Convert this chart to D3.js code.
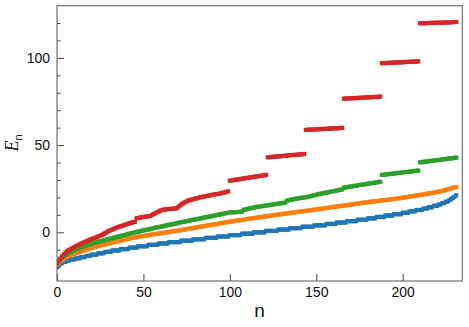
<!DOCTYPE html>
<html><head><meta charset="utf-8">
<script src="https://cdn.jsdelivr.net/npm/d3@7/dist/d3.min.js"></script>
<style>html,body{margin:0;padding:0;background:#fff;}svg{display:block;}</style>
</head><body>
<svg id="chart" width="469" height="327"></svg>
<script>
const seriesNames = ["s1","s2","s3","s4"];
const colors = ["#1f77b4","#ff7f0e","#2ca02c","#d62728"];
const xTicks = [0,50,100,150,200];
const yTicks = [0,50,100];
const yMinorTicks = [-20,-10,10,20,30,40,60,70,80,90,110,120];

const blue = [
-20.0,-18.9,-18.1,-17.5,-16.9,-16.9,-16.2,-16.2,-15.6,-15.6,
-15.6,-14.9,-14.9,-14.9,-14.2,-14.2,-14.2,-13.5,-13.5,-13.5,
-12.8,-12.8,-12.8,-12.8,-12.0,-12.0,-12.0,-12.0,-11.2,-11.2,
-11.2,-11.2,-10.4,-10.4,-10.4,-10.4,-10.4,-9.6,-9.6,-9.6,
-9.6,-9.6,-8.8,-8.8,-8.8,-8.8,-8.8,-8.0,-8.0,-8.0,
-8.0,-8.0,-8.0,-7.2,-7.2,-7.2,-7.2,-7.2,-7.2,-6.4,
-6.4,-6.4,-6.4,-6.4,-6.4,-5.6,-5.6,-5.6,-5.6,-5.6,
-5.6,-5.6,-4.8,-4.8,-4.8,-4.8,-4.8,-4.8,-4.8,-4.0,
-4.0,-4.0,-4.0,-4.0,-4.0,-4.0,-3.2,-3.2,-3.2,-3.2,
-3.2,-3.2,-3.2,-2.4,-2.4,-2.4,-2.4,-2.4,-2.4,-2.4,
-1.6,-1.6,-1.6,-1.6,-1.6,-1.6,-1.6,-0.8,-0.8,-0.8,
-0.8,-0.8,-0.8,-0.8,0.0,0.0,0.0,0.0,0.0,0.0,
0.0,0.8,0.8,0.8,0.8,0.8,0.8,0.8,1.6,1.6,
1.6,1.6,1.6,1.6,1.6,2.4,2.4,2.4,2.4,2.4,
2.4,2.4,3.2,3.2,3.2,3.2,3.2,3.2,3.2,4.0,
4.0,4.0,4.0,4.0,4.0,4.0,4.8,4.8,4.8,4.8,
4.8,4.8,5.6,5.6,5.6,5.6,5.6,5.6,6.4,6.4,
6.4,6.4,6.4,6.4,7.2,7.2,7.2,7.2,7.2,7.2,
8.0,8.0,8.0,8.0,8.0,8.8,8.8,8.8,8.8,8.8,
9.6,9.6,9.6,9.6,9.6,10.4,10.4,10.4,10.4,10.4,
11.2,11.2,11.2,11.2,12.0,12.0,12.0,12.0,12.8,12.8,
12.8,12.8,13.6,13.6,13.6,14.4,14.4,14.4,15.2,15.2,
15.2,16.0,16.0,16.8,16.8,17.6,17.6,18.4,19.0,19.7,
20.4,21.2];

const orange = [
-19.2,-17.6,-16.6,-15.8,-15.1,-14.5,-14.0,-13.5,-13.1,-12.7,
-12.3,-12.0,-11.6,-11.3,-11.0,-10.6,-10.3,-10.0,-9.6,-9.3,
-9.0,-8.6,-8.3,-8.1,-7.8,-7.6,-7.3,-7.1,-6.9,-6.6,
-6.4,-6.1,-5.9,-5.6,-5.4,-5.2,-4.9,-4.7,-4.5,-4.2,
-4.0,-3.8,-3.6,-3.3,-3.1,-2.9,-2.7,-2.6,-2.4,-2.3,
-2.1,-1.9,-1.8,-1.6,-1.5,-1.3,-1.1,-1.0,-0.8,-0.7,
-0.5,-0.4,-0.2,-0.1,0.1,0.2,0.4,0.5,0.7,0.8,
1.0,1.1,1.3,1.5,1.6,1.8,2.0,2.2,2.3,2.5,
2.7,2.9,3.0,3.2,3.4,3.6,3.7,3.9,4.1,4.2,
4.4,4.6,4.7,4.9,5.1,5.2,5.4,5.6,5.8,5.9,
6.1,6.2,6.4,6.5,6.7,6.8,7.0,7.1,7.3,7.4,
7.6,7.7,7.9,8.0,8.2,8.3,8.5,8.6,8.7,8.9,
9.0,9.2,9.3,9.5,9.6,9.8,9.9,10.0,10.2,10.3,
10.4,10.6,10.7,10.8,11.0,11.1,11.2,11.4,11.5,11.6,
11.8,11.9,12.0,12.2,12.3,12.4,12.5,12.7,12.8,12.9,
13.1,13.2,13.4,13.5,13.7,13.8,13.9,14.1,14.2,14.4,
14.5,14.6,14.8,14.9,15.1,15.2,15.3,15.5,15.6,15.8,
15.9,16.0,16.2,16.3,16.5,16.6,16.7,16.9,17.0,17.2,
17.3,17.5,17.6,17.7,17.8,17.9,18.0,18.2,18.3,18.4,
18.5,18.6,18.8,18.9,19.0,19.1,19.2,19.4,19.5,19.7,
19.8,20.0,20.1,20.3,20.5,20.6,20.8,20.9,21.1,21.3,
21.4,21.6,21.7,21.9,22.1,22.2,22.4,22.5,22.7,22.9,
23.1,23.3,23.5,23.7,24.0,24.3,24.6,24.9,25.2,25.5,
25.8,26.0];

const green = [
-17.8,-16.4,-15.3,-14.4,-13.6,-12.9,-12.3,-11.7,-11.2,-10.7,
-10.2,-9.8,-9.4,-9.0,-8.6,-8.2,-7.9,-7.6,-7.2,-6.9,
-6.6,-6.3,-6.0,-5.7,-5.4,-5.2,-4.9,-4.6,-4.4,-4.1,
-3.9,-3.6,-3.4,-3.1,-2.9,-2.6,-2.3,-2.1,-1.8,-1.6,
-1.3,-1.0,-0.8,-0.5,-0.3,0.0,0.2,0.4,0.6,0.9,
1.1,1.3,1.5,1.7,1.9,2.1,2.4,2.6,2.8,3.0,
3.2,3.4,3.6,3.9,4.1,4.3,4.5,4.7,4.9,5.1,
5.4,5.6,5.8,6.0,6.2,6.4,6.6,6.8,7.0,7.2,
7.4,7.6,7.8,8.0,8.2,8.4,8.6,8.8,9.0,9.2,
9.4,9.6,9.8,10.0,10.2,10.4,10.6,10.8,11.0,11.2,
11.4,11.5,11.5,11.6,11.6,11.7,11.7,11.8,12.9,13.1,
13.3,13.6,13.8,14.0,14.2,14.4,14.6,14.8,14.9,15.1,
15.2,15.4,15.5,15.7,15.8,16.0,16.1,16.3,16.4,16.6,
16.7,16.9,17.0,18.1,18.3,18.6,18.8,19.0,19.2,19.4,
19.5,19.7,19.8,20.0,20.1,20.3,20.5,20.8,21.0,21.3,
21.5,21.8,22.0,22.2,22.4,22.6,22.8,23.0,23.2,23.4,
23.6,23.8,24.0,24.2,24.4,24.6,25.6,25.8,25.9,26.1,
26.2,26.4,26.6,26.7,26.9,27.1,27.2,27.4,27.5,27.7,
27.9,28.0,28.2,28.3,28.5,28.7,28.8,29.0,32.9,33.0,
33.1,33.3,33.4,33.5,33.6,33.7,33.9,34.0,34.1,34.2,
34.3,34.5,34.6,34.7,34.8,34.9,35.0,35.2,35.3,35.4,
40.1,40.2,40.4,40.5,40.6,40.7,40.9,41.0,41.1,41.3,
41.4,41.5,41.6,41.8,41.9,42.0,42.2,42.3,42.4,42.5,
42.7,42.8];

const red = [
-17.6,-16.2,-15.0,-13.7,-12.6,-11.6,-10.8,-10.2,-9.6,-9.0,
-8.5,-8.0,-7.5,-7.0,-6.5,-6.1,-5.6,-5.2,-4.7,-4.3,
-3.9,-3.5,-3.2,-2.8,-2.3,-1.9,-1.5,-0.9,-0.4,0.2,
0.8,1.2,1.6,2.1,2.5,2.8,3.2,3.5,3.8,4.2,
4.5,4.9,5.2,5.5,5.8,6.0,8.0,8.2,8.4,8.6,
8.8,8.9,9.0,9.2,9.4,10.0,10.5,11.0,11.5,12.0,
12.5,12.8,13.0,13.2,13.3,13.4,13.5,13.5,13.6,13.7,
14.3,15.2,16.0,16.6,17.2,17.7,18.2,18.5,18.8,19.0,
19.3,19.5,19.8,20.1,20.3,20.5,20.7,20.9,21.1,21.3,
21.5,21.7,21.9,22.0,22.2,22.4,22.7,22.9,23.2,23.5,
29.6,29.8,29.9,30.1,30.2,30.4,30.5,30.7,30.9,31.0,
31.2,31.3,31.5,31.6,31.8,32.0,32.1,32.3,32.4,32.6,
32.7,32.9,43.0,43.1,43.2,43.3,43.4,43.5,43.5,43.6,
43.7,43.8,43.9,44.0,44.1,44.2,44.3,44.3,44.4,44.5,
44.6,44.7,44.8,44.9,58.7,58.8,58.8,58.9,58.9,59.0,
59.0,59.1,59.1,59.2,59.2,59.3,59.3,59.4,59.5,59.5,
59.6,59.6,59.7,59.7,59.8,59.9,76.6,76.7,76.7,76.8,
76.8,76.9,76.9,77.0,77.0,77.1,77.1,77.2,77.2,77.3,
77.4,77.4,77.5,77.5,77.6,77.6,77.7,77.8,96.9,97.0,
97.0,97.1,97.1,97.2,97.2,97.3,97.3,97.4,97.4,97.5,
97.5,97.6,97.6,97.7,97.7,97.8,97.8,97.9,97.9,98.0,
119.8,119.8,119.9,119.9,119.9,120.0,120.0,120.0,120.1,120.1,
120.1,120.2,120.2,120.2,120.3,120.3,120.3,120.4,120.4,120.5,
120.5,120.6];

const allSeries = [blue, orange, green, red];

const svg = d3.select("#chart");
const L = 57, R = 462.3, T = 5.7, B = 281;
const x = d3.scaleLinear().domain([0, 234.5]).range([L, R]);
const y = d3.scaleLinear().domain([-27.9, 129.9]).range([B, T]);

svg.append("defs").append("clipPath").attr("id","clip")
  .append("rect").attr("x",L).attr("y",T).attr("width",R-L).attr("height",B-T);

const plot = svg.append("g").attr("clip-path","url(#clip)");
const ms = 4.2;
allSeries.forEach((arr, si) => {
  plot.append("g").selectAll("rect").data(arr).join("rect")
    .attr("x", (d,i) => x(i) - ms/2)
    .attr("y", d => y(d) - ms/2)
    .attr("width", ms).attr("height", ms)
    .attr("fill", colors[si]);
});

const font = "'Liberation Sans', Arial, sans-serif";
const xAxis = d3.axisBottom(x).tickValues(xTicks).tickSize(-7).tickPadding(6).tickFormat(d3.format("d"));
const gx = svg.append("g").attr("transform",`translate(0,${B})`).call(xAxis);
gx.select(".domain").remove();
gx.selectAll(".tick line").attr("stroke","#444");
gx.selectAll("text").attr("font-family",font).attr("font-size",14).attr("fill","#111");

const yAxis = d3.axisLeft(y).tickValues(yTicks).tickSize(-7).tickPadding(7).tickFormat(d3.format("d"));
const gy = svg.append("g").attr("transform",`translate(${L},0)`).call(yAxis);
gy.select(".domain").remove();
gy.selectAll(".tick line").attr("stroke","#444");
gy.selectAll("text").attr("font-family",font).attr("font-size",14).attr("fill","#111");

const yMinor = d3.axisLeft(y).tickValues(yMinorTicks).tickSize(-3.5).tickFormat("");
const gym = svg.append("g").attr("transform",`translate(${L},0)`).call(yMinor);
gym.select(".domain").remove();
gym.selectAll(".tick line").attr("stroke","#444");

svg.append("rect").attr("x",L).attr("y",T).attr("width",R-L).attr("height",B-T)
  .attr("fill","none").attr("stroke","#666").attr("stroke-width",1.1);

svg.append("text").attr("x",(L+R)/2).attr("y",316.5).attr("text-anchor","middle")
  .attr("font-family",font).attr("font-size",19).attr("fill","#111").text("n");

const yl = svg.append("text").attr("transform","translate(18,143) rotate(-90)")
  .attr("text-anchor","middle").attr("fill","#111");
yl.append("tspan").attr("font-family","'Liberation Serif', 'Times New Roman', serif")
  .attr("font-style","italic").attr("font-size",18).text("E");
yl.append("tspan").attr("font-family",font).attr("font-size",11).attr("dy",4).text("n");
</script>
</body></html>
